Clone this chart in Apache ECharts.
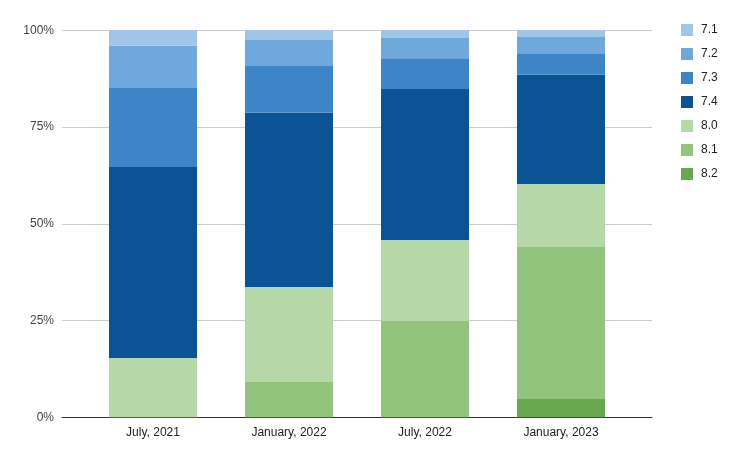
<!DOCTYPE html>
<html>
<head>
<meta charset="utf-8">
<script src="https://cdn.jsdelivr.net/npm/echarts@6/dist/echarts.min.js"></script>
<style>
html,body{margin:0;padding:0;background:#fff;}
#chart{width:746px;height:461px;}
</style>
</head>
<body>
<div id="chart"></div>
<script>
var categories = ['July, 2021', 'January, 2022', 'July, 2022', 'January, 2023'];
var yTickLabels = ['0%', '25%', '50%', '75%', '100%'];
var legendOrder = ['7.1', '7.2', '7.3', '7.4', '8.0', '8.1', '8.2'];
// shares in percent, per category
var v82 = [0, 0, 0, 4.7];
var v81 = [0, 9.1, 24.9, 39.3];
var v80 = [15.3, 24.6, 20.9, 16.3];
var v74 = [49.4, 45.0, 39.0, 28.2];
var v73 = [20.4, 12.1, 8.0, 5.4];
var v72 = [10.9, 6.7, 5.2, 4.4];
var v71 = [4.0, 2.5, 2.0, 1.7];

var stackSeries = [
  {name: '8.2', data: v82, color: '#6aa84f'},
  {name: '8.1', data: v81, color: '#93c47d'},
  {name: '8.0', data: v80, color: '#b6d7a8'},
  {name: '7.4', data: v74, color: '#0b5394'},
  {name: '7.3', data: v73, color: '#3d85c6'},
  {name: '7.2', data: v72, color: '#6fa8dc'},
  {name: '7.1', data: v71, color: '#9fc5e8'}
];

var font = 'Liberation Sans, Arial, sans-serif';
var chart = echarts.init(document.getElementById('chart'));
chart.setOption({
  animation: false,
  backgroundColor: '#ffffff',
  textStyle: {fontFamily: font},
  legend: {
    orient: 'vertical',
    left: 681,
    top: 24,
    padding: 0,
    itemWidth: 12,
    itemHeight: 12,
    itemGap: 12,
    icon: 'rect',
    data: legendOrder,
    textStyle: {fontSize: 12, color: '#222', fontFamily: font, padding: [0, 0, 0, 3]}
  },
  grid: [
    {left: 85, right: 117, top: 30.3, bottom: 461 - 417.3},
    {left: 62, right: 94, top: 30.3, bottom: 461 - 417.3}
  ],
  xAxis: [
    {
      type: 'category', gridIndex: 0, data: categories,
      axisLine: {show: false}, axisTick: {show: false},
      axisLabel: {fontSize: 12, color: '#222', margin: 9, fontFamily: font}
    },
    {
      type: 'value', gridIndex: 1, min: 0, max: 1,
      axisLine: {show: true, onZero: false, lineStyle: {color: '#333', width: 1}},
      axisTick: {show: false}, axisLabel: {show: false}, splitLine: {show: false}
    }
  ],
  yAxis: [
    {
      type: 'value', gridIndex: 0, min: 0, max: 100, interval: 25,
      axisLine: {show: false}, axisTick: {show: false},
      axisLabel: {show: false}, splitLine: {show: false}
    },
    {
      type: 'value', gridIndex: 1, min: 0, max: 100, interval: 25,
      axisLine: {show: false}, axisTick: {show: false},
      axisLabel: {
        fontSize: 12, color: '#444', margin: 8, fontFamily: font,
        formatter: function (v) { return yTickLabels[Math.round(v / 25)]; }
      },
      splitLine: {show: true, lineStyle: {color: '#cccccc', width: 1}}
    }
  ],
  series: stackSeries.map(function (s) {
    return {
      name: s.name, type: 'bar', stack: 'total',
      xAxisIndex: 0, yAxisIndex: 0,
      barWidth: 88,
      data: s.data,
      itemStyle: {color: s.color},
      z: 3
    };
  })
});
</script>
</body>
</html>
